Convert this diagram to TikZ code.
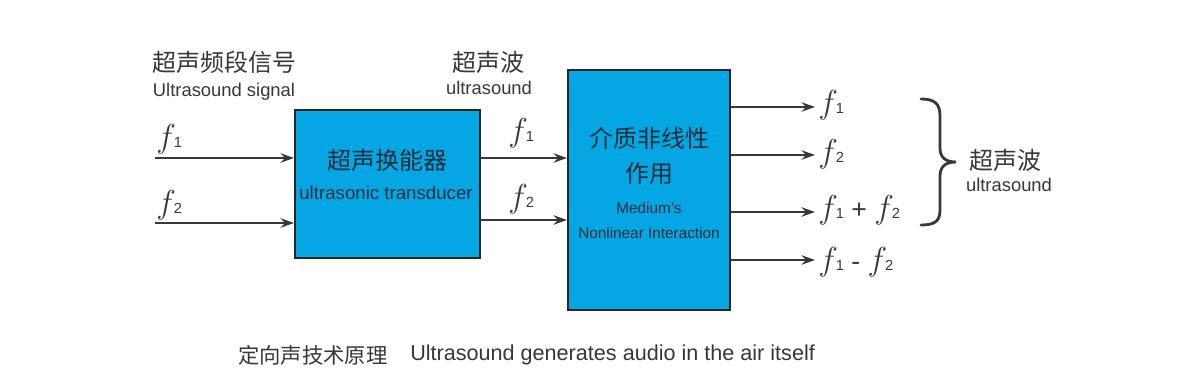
\documentclass[tikz,border=0pt]{standalone}
\usepackage{fontspec}
\setmainfont{Liberation Sans}
\newfontfamily\cjk{Noto Sans CJK SC}
\usetikzlibrary{arrows.meta}
\definecolor{boxblue}{RGB}{4,167,228}
\definecolor{ink}{RGB}{55,55,55}
\definecolor{boxink}{RGB}{30,45,60}
\newcommand\fq[1]{{\fontsize{29}{29}\selectfont$f$}\kern-1.5pt{\fontsize{11}{11}\selectfont #1}}
\tikzset{
  blk/.style={draw=black!85, line width=1.5pt, fill=boxblue, inner sep=0pt},
  conn/.style={draw=ink, line width=1.6pt, -{Stealth[length=10pt,width=7pt]}},
  cn/.style={font=\cjk\fontsize{18}{20}\selectfont, text=ink, inner sep=0pt},
  en/.style={font=\fontsize{13.8}{15}\selectfont, text=ink, inner sep=0pt},
  fl/.style={text=ink, inner sep=0pt, anchor=base west},
}
\begin{document}
\begin{tikzpicture}[x=0.75pt,y=-0.75pt]
\useasboundingbox (0,0) rectangle (1181,392);
% headers
\node[cn] (h1) at (224,62) {超声频段信号};
\node[en] (h1e) at (224,92) {Ultrasound signal};
\node[cn] (h2) at (488,62) {超声波};
\node[en] (h2e) at (489,88) {ultrasound};
% boxes
\node[blk, minimum width=138.75pt, minimum height=111pt] (b1) at (387.5,184) {};
\node[cn, text=boxink] (b1c) at (387,160) {超声换能器};
\node[en, text=boxink, font=\fontsize{14}{15}\selectfont] (b1e) at (386,193) {ultrasonic transducer};
\node[blk, minimum width=121.5pt, minimum height=180pt] (b2) at (649,190) {};
\node[cn, text=boxink] (b2c1) at (649,138) {介质非线性};
\node[cn, text=boxink] (b2c2) at (649,173) {作用};
\node[en, text=boxink, font=\fontsize{11.5}{13}\selectfont] (b2e1) at (649,208) {Medium’s};
\node[en, text=boxink, font=\fontsize{11.5}{13}\selectfont] (b2e2) at (649,233) {Nonlinear Interaction};
% inputs
\coordinate (i1) at (155,158);
\coordinate (i2) at (155,223);
\draw[conn] (i1) -- (i1 -| b1.west);
\draw[conn] (i2) -- (i2 -| b1.west);
\node[fl] (fi1) at (156,148) {\fq{1}};
\node[fl] (fi2) at (156,214) {\fq{2}};
% middle
\coordinate (m1) at (480,158);
\coordinate (m2) at (480,220);
\draw[conn] (m1) -- (m1 -| b2.west);
\draw[conn] (m2) -- (m2 -| b2.west);
\node[fl] (fm1) at (508,142) {\fq{1}};
\node[fl] (fm2) at (508,208) {\fq{2}};
% outputs
\coordinate (o1) at (815,107);
\coordinate (o2) at (815,155);
\coordinate (o3) at (815,212);
\coordinate (o4) at (815,260);
\draw[conn] (o1 -| b2.east) -- (o1);
\draw[conn] (o2 -| b2.east) -- (o2);
\draw[conn] (o3 -| b2.east) -- (o3);
\draw[conn] (o4 -| b2.east) -- (o4);
\node[fl] (fo1) at (818,114) {\fq{1}};
\node[fl] (fo2) at (818,162) {\fq{2}};
\node[fl] (fo3) at (818,219) {\fq{1}{\fontsize{20}{20}\selectfont\ +\ }\fq{2}};
\node[fl] (fo4) at (818,270) {\fq{1}{\fontsize{20}{20}\selectfont\ -\ }\fq{2}};
% brace
\draw[ink, line width=2.1pt, line cap=round]
  (921,99) .. controls (935,99) and (940,104) .. (940,116) -- (940,148)
  .. controls (940,157) and (945,162) .. (956,162)
  .. controls (945,162) and (940,167) .. (940,176) -- (940,210)
  .. controls (940,221) and (935,225) .. (921,225);
\node[cn] (r1) at (1005,160) {超声波};
\node[en] (r1e) at (1009,185) {ultrasound};
% caption
\node[cn, font=\cjk\fontsize{16}{18}\selectfont, anchor=west] (cap1) at (238,355) {定向声技术原理};
\node[en, font=\fontsize{16.2}{18}\selectfont, anchor=west] (cap2) at (410,355) {Ultrasound generates audio in the air itself};
\end{tikzpicture}
\end{document}
